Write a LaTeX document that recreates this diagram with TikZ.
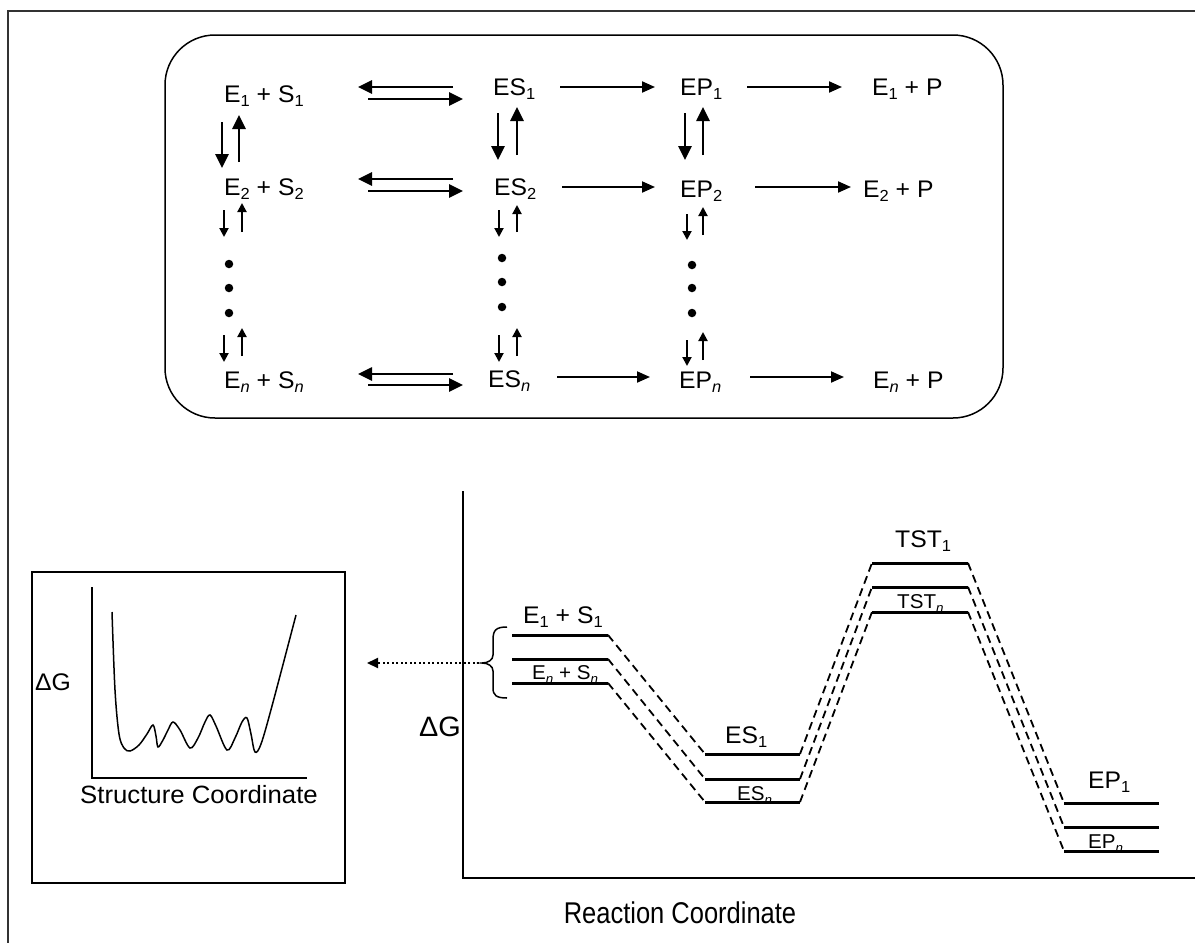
\documentclass[tikz,border=0pt]{standalone}
\usepackage{fontspec}
\setmainfont{Liberation Sans}[FakeStretch=1.03]
\newfontfamily\plainsans{Liberation Sans}[FakeStretch=0.85]
\usetikzlibrary{arrows.meta}
\newcommand\sbs[2][16]{\raisebox{-0.2em}{\fontsize{#1}{#1}\selectfont #2}}
\begin{document}
\begin{tikzpicture}[x=1pt,y=-1pt,
 lab/.style={font=\fontsize{24}{28}\selectfont, inner sep=0pt, anchor=base west},
 small/.style={font=\fontsize{20}{23}\selectfont, inner sep=0pt, anchor=base west},
 eqarr/.style={line width=2.6pt, -{Triangle[length=14pt,width=13pt]}},
 fwdarr/.style={line width=2pt, -{Triangle[length=13pt,width=11pt]}},
 bigv/.style={line width=2.6pt, -{Triangle[length=14pt,width=13pt]}},
 smallv/.style={line width=2pt, -{Triangle[length=9pt,width=9pt]}},
 level/.style={line width=3pt},
 conn/.style={line width=1.8pt, dash pattern=on 8pt off 5pt},
 vdot/.style={circle, fill, inner sep=0pt, minimum size=8.5pt},
]
\useasboundingbox (0,0) rectangle (1195,943);
% outer frame
\draw[line width=2.5pt, black!80] (8,943) -- (8,11) -- (1195,11);
% rounded box
\draw[line width=1.5pt, rounded corners=50pt] (165,35) rectangle (1003,418);

% ---- top scheme texts
\node[lab] (es1r) at (224,102) {E\sbs{1} + S\sbs{1}};
\node[lab] (es2r) at (224,195) {E\sbs{2} + S\sbs{2}};
\node[lab] (esnr) at (224,388) {E\sbs{\textit{n}} + S\sbs{\textit{n}}};
\node[lab] (cx1) at (493,95) {ES\sbs{1}};
\node[lab] (cx2) at (494,195) {ES\sbs{2}};
\node[lab] (cxn) at (488,387) {ES\sbs{\textit{n}}};
\node[lab] (ep1) at (680,95) {EP\sbs{1}};
\node[lab] (ep2) at (680,197) {EP\sbs{2}};
\node[lab] (epn) at (679,388) {EP\sbs{\textit{n}}};
\node[lab] (pr1) at (872,95) {E\sbs{1} + P};
\node[lab] (pr2) at (863,197) {E\sbs{2} + P};
\node[lab] (prn) at (873,388) {E\sbs{\textit{n}} + P};

% equilibrium arrows
\foreach \n/\ya/\yb in {1/87/99, 2/179/191, n/374/385}{
  \coordinate (eqa\n) at (453,\ya); \coordinate (eqb\n) at (358,\ya);
  \coordinate (eqc\n) at (368,\yb); \coordinate (eqd\n) at (463,\yb);
  \draw[eqarr] (eqa\n) -- (eqb\n);
  \draw[eqarr] (eqc\n) -- (eqd\n);
}
% forward arrows
\foreach \n/\xa/\xb/\xc/\xd/\y in {1/560/655/747/842/87, 2/562/655/755/851/187, n/557/650/750/844/377}{
  \coordinate (fa\n) at (\xa,\y); \coordinate (fb\n) at (\xb,\y);
  \coordinate (fc\n) at (\xc,\y); \coordinate (fd\n) at (\xd,\y);
  \draw[fwdarr] (fa\n) -- (fb\n);
  \draw[fwdarr] (fc\n) -- (fd\n);
}
% vertical arrows
\foreach \c/\xd/\xu/\ya/\yb/\yc/\yd in {a/222/239/122/168/162/115, b/498/517/113/160/155/107, c/685/703/113/160/155/107}{
  \coordinate (vda\c) at (\xd,\ya); \coordinate (vdb\c) at (\xd,\yb);
  \coordinate (vua\c) at (\xu,\yc); \coordinate (vub\c) at (\xu,\yd);
  \draw[bigv] (vda\c) -- (vdb\c);
  \draw[bigv] (vua\c) -- (vub\c);
}
\foreach \c/\xd/\xu/\ya/\yb/\yc/\yd in {a/224/242/210/237/232/203, b/499/517/210/237/232/205, c/687/703/214/240/235/207,
   d/224/242/335/362/356/328, e/499/517/335/362/356/328, f/687/703/340/366/360/332}{
  \coordinate (sda\c) at (\xd,\ya); \coordinate (sdb\c) at (\xd,\yb);
  \coordinate (sua\c) at (\xu,\yc); \coordinate (sub\c) at (\xu,\yd);
  \draw[smallv] (sda\c) -- (sdb\c);
  \draw[smallv] (sua\c) -- (sub\c);
}
% dots
\foreach \c/\x/\ya/\yb/\yc in {a/229/264/288/313, b/502/258/282/307, c/692/265/288/313}{
  \node[vdot] (d1\c) at (\x,\ya) {};
  \node[vdot] (d2\c) at (\x,\yb) {};
  \node[vdot] (d3\c) at (\x,\yc) {};
}

% ---- inset
\draw[line width=1.5pt] (32,572) rectangle (345,883);
\draw[line width=1.5pt] (92,587) -- (92,778) -- (307,778);
\node[lab] (dgi) at (35,690) {ΔG};
\node[lab, font=\fontsize{25}{29}\selectfont] (sc) at (80,803) {Structure Coordinate};
\draw[line width=1.5pt] plot[smooth, tension=0.55] coordinates{
 (112,612) (115,690) (119,734) (124,748) (130,751) (139,745) (147,734) (153,725) (156,736) (158,747)
 (163,740) (168,730) (173,722) (180,730) (190,748) (198,738) (205,722) (210,715) (216,726) (227,750)
 (235,738) (242,722) (247,718) (251,734) (255,752) (261,744) (272,706) (296,615)};

% ---- main energy diagram
\draw[line width=2pt] (463,491) -- (463,878) -- (1195,878);
\node[font=\fontsize{28}{32}\selectfont, inner sep=0pt, anchor=base east] (dg) at (461,736) {ΔG};
\node[font=\plainsans\fontsize{30}{34}\selectfont, inner sep=0pt, anchor=base] (rc) at (680,923) {Reaction Coordinate};

\node[lab] (l1) at (523,623) {E\sbs{1} + S\sbs{1}};
\node[small] (l2) at (532,679) {E\sbs[13]{\textit{n}} + S\sbs[13]{\textit{n}}};
\node[lab] (l3) at (725,743) {ES\sbs{1}};
\node[small] (l4) at (737,800) {ES\sbs[13]{\textit{n}}};
\node[lab] (l5) at (895,547) {TST\sbs{1}};
\node[small] (l6) at (897,608) {TST\sbs[13]{\textit{n}}};
\node[lab] (l7) at (1088,788) {EP\sbs{1}};
\node[small] (l8) at (1088,848) {EP\sbs[13]{\textit{n}}};

\foreach \i/\yr/\yc/\yt/\yp in {1/635/754/563/803, 2/659/779/587/827, 3/683/802/612/851}{
  \draw[level] (512,\yr) coordinate (ra\i) -- (608,\yr) coordinate (rb\i);
  \draw[level] (705,\yc) coordinate (ca\i) -- (800,\yc) coordinate (cb\i);
  \draw[level] (872,\yt) coordinate (ta\i) -- (968,\yt) coordinate (tb\i);
  \draw[level] (1064,\yp) coordinate (pa\i) -- (1159,\yp) coordinate (pb\i);
  \draw[conn] (rb\i) -- (ca\i);
  \draw[conn] (cb\i) -- (ta\i);
  \draw[conn] (tb\i) -- (pa\i);
}
% brace and dotted arrow
\draw[line width=1.5pt] (507,627) .. controls (496,627) and (493,630) .. (493,640) -- (493,655)
  .. controls (493,660) and (488,663) .. (482,663) coordinate (bt)
  .. controls (488,663) and (493,666) .. (493,671) -- (493,688)
  .. controls (493,695) and (496,698) .. (507,698);
\coordinate (dtip) at (367,663);
\draw[line width=2pt, dash pattern=on 2pt off 2.5pt, -{Triangle[length=11pt,width=10pt]}] ([xshift=-3pt]bt) -- (dtip);
\end{tikzpicture}
\end{document}
